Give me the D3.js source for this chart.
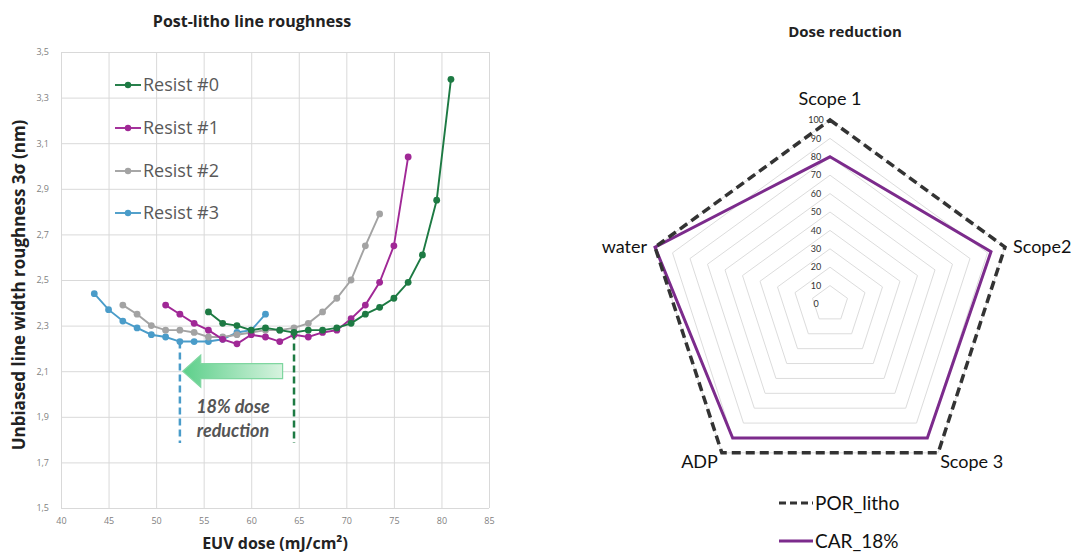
<!DOCTYPE html>
<html>
<head>
<meta charset="utf-8">
<script src="https://d3js.org/d3.v7.min.js"></script>
<style>
  body { margin: 0; background: #fff; }
  svg { display: block; }
  .grid line { stroke: #d9d9d9; stroke-width: 1; }
  .grid path { display: none; }
  .tick text { fill: #7f7f7f; font-size: 9px; font-family: "Open Sans", sans-serif; }
</style>
</head>
<body>
<svg id="chart" width="1077" height="555"></svg>
<script>
  // ---- left chart data (EUV dose vs roughness) ----
  const resistNames = ["Resist #0", "Resist #1", "Resist #2", "Resist #3"];
  const resistColors = ["#1d7a43", "#a02896", "#a3a3a3", "#4a9cc9"];

  const dose0 = [55.5, 57, 58.5, 60, 61.5, 63, 64.5, 66, 67.5, 69, 70.5, 72, 73.5, 75, 76.5, 78, 79.5, 81];
  const ler0  = [2.36, 2.31, 2.30, 2.28, 2.29, 2.28, 2.27, 2.28, 2.28, 2.29, 2.31, 2.35, 2.38, 2.42, 2.49, 2.61, 2.85, 3.38];

  const dose1 = [51, 52.5, 54, 55.5, 57, 58.5, 60, 61.5, 63, 64.5, 66, 67.5, 69, 70.5, 72, 73.5, 75, 76.5];
  const ler1  = [2.39, 2.35, 2.31, 2.28, 2.24, 2.22, 2.26, 2.25, 2.23, 2.26, 2.25, 2.27, 2.28, 2.33, 2.39, 2.49, 2.65, 3.04];

  const dose2 = [46.5, 48, 49.5, 51, 52.5, 54, 55.5, 57, 58.5, 60, 61.5, 63, 64.5, 66, 67.5, 69, 70.5, 72, 73.5];
  const ler2  = [2.39, 2.35, 2.30, 2.28, 2.28, 2.27, 2.25, 2.25, 2.26, 2.27, 2.28, 2.28, 2.29, 2.31, 2.36, 2.42, 2.50, 2.65, 2.79];

  const dose3 = [43.5, 45, 46.5, 48, 49.5, 51, 52.5, 54, 55.5, 57, 58.5, 60, 61.5];
  const ler3  = [2.44, 2.37, 2.32, 2.29, 2.26, 2.25, 2.23, 2.23, 2.23, 2.24, 2.27, 2.28, 2.35];

  const xTicks = [40, 45, 50, 55, 60, 65, 70, 75, 80, 85];
  const yTicks = [1.5, 1.7, 1.9, 2.1, 2.3, 2.5, 2.7, 2.9, 3.1, 3.3, 3.5];

  // dose reduction markers
  const refDoses = [52.5, 64.5];
  const refLer = [2.23, 2.27];
  const refColors = ["#4a9cc9", "#1d7a43"];
  const arrowFrom = 63.3, arrowTo = 52.8, arrowLevel = 2.1;

  // ---- right chart data (radar) ----
  const axesNames = ["Scope 1", "Scope2", "Scope 3", "ADP", "water"];
  const porLitho = [100, 100, 100, 100, 100];
  const car18 = [80, 92, 90, 90, 100];
  const ringTicks = [0, 10, 20, 30, 40, 50, 60, 70, 80, 90, 100];

  const svg = d3.select("#chart");
  const locale = d3.formatLocale({ decimal: ",", thousands: ".", grouping: [3], currency: ["", "€"] });
  const fmt = locale.format(".1f");

  // ================= LEFT CHART =================
  const x = d3.scaleLinear().domain([40, 85]).range([61, 489]);
  const y = d3.scaleLinear().domain([1.5, 3.5]).range([508, 52]);

  svg.append("g")
    .attr("class", "grid")
    .attr("transform", "translate(0,508)")
    .call(d3.axisBottom(x).tickValues(xTicks).tickSize(-456).tickPadding(8))
    .call(g => g.selectAll(".tick text").attr("dy", "0.9em"));

  svg.append("g")
    .attr("class", "grid")
    .attr("transform", "translate(61,0)")
    .call(d3.axisLeft(y).tickValues(yTicks).tickSize(-428).tickPadding(12).tickFormat(fmt));

  const series = [
    { name: resistNames[0], color: resistColors[0], xs: dose0, ys: ler0 },
    { name: resistNames[1], color: resistColors[1], xs: dose1, ys: ler1 },
    { name: resistNames[2], color: resistColors[2], xs: dose2, ys: ler2 },
    { name: resistNames[3], color: resistColors[3], xs: dose3, ys: ler3 }
  ];

  const line = d3.line().x(d => x(d[0])).y(d => y(d[1]));

  // draw back to front: #3, #2, #1, #0
  series.slice().reverse().forEach(s => {
    const pts = s.xs.map((v, i) => [v, s.ys[i]]);
    svg.append("path")
      .datum(pts)
      .attr("d", line)
      .attr("fill", "none")
      .attr("stroke", s.color)
      .attr("stroke-width", 1.9);
    svg.append("g").selectAll("circle")
      .data(pts)
      .enter().append("circle")
      .attr("cx", d => x(d[0]))
      .attr("cy", d => y(d[1]))
      .attr("r", 3.4)
      .attr("fill", s.color);
  });

  // dashed verticals
  refDoses.forEach((d, i) => {
    svg.append("line")
      .attr("x1", x(d)).attr("x2", x(d))
      .attr("y1", y(refLer[i])).attr("y2", y(1.785))
      .attr("stroke", refColors[i])
      .attr("stroke-width", 2.5)
      .attr("stroke-dasharray", "7,4");
  });

  // arrow
  const defs = svg.append("defs");
  const grad = defs.append("linearGradient").attr("id", "arrowGrad")
    .attr("x1", "0").attr("x2", "1").attr("y1", "0").attr("y2", "0");
  grad.append("stop").attr("offset", "0%").attr("stop-color", "#5ccf8a");
  grad.append("stop").attr("offset", "100%").attr("stop-color", "#d7f3df");

  const ax0 = x(arrowTo), ax1 = x(arrowFrom), ay = y(arrowLevel);
  const arrowPts = [
    [ax0, ay], [ax0 + 18, ay - 16], [ax0 + 18, ay - 7.5], [ax1, ay - 7.5],
    [ax1, ay + 7.5], [ax0 + 18, ay + 7.5], [ax0 + 18, ay + 16]
  ];
  svg.append("polygon")
    .attr("points", arrowPts.map(p => p.join(",")).join(" "))
    .attr("fill", "url(#arrowGrad)")
    .attr("stroke", "#7fd6a0")
    .attr("stroke-width", 1.2);

  svg.append("text")
    .attr("x", 233).attr("y", 413)
    .attr("text-anchor", "middle")
    .attr("font-family", "Lato, sans-serif")
    .attr("font-weight", "bold").attr("font-style", "italic")
    .attr("font-size", 18).attr("fill", "#555")
    .text("18% dose");
  svg.append("text")
    .attr("x", 233).attr("y", 437)
    .attr("text-anchor", "middle")
    .attr("font-family", "Lato, sans-serif")
    .attr("font-weight", "bold").attr("font-style", "italic")
    .attr("font-size", 18).attr("fill", "#555")
    .text("reduction");

  // legend
  const legendY = [85, 128, 171, 213];
  series.forEach((s, i) => {
    const g = svg.append("g").attr("transform", `translate(115,${legendY[i]})`);
    g.append("line").attr("x1", 0).attr("x2", 26).attr("stroke", s.color).attr("stroke-width", 1.9);
    g.append("circle").attr("cx", 13).attr("r", 3.2).attr("fill", s.color);
    g.append("text")
      .attr("x", 28).attr("dy", "0.35em")
      .attr("font-family", "'Open Sans', sans-serif")
      .attr("font-size", 18).attr("fill", "#595959")
      .text(s.name);
  });

  // titles
  svg.append("text")
    .attr("x", 252).attr("y", 27)
    .attr("text-anchor", "middle")
    .attr("font-family", "'Open Sans', sans-serif")
    .attr("font-weight", "bold").attr("font-size", 16).attr("fill", "#222")
    .text("Post-litho line roughness");

  svg.append("text")
    .attr("x", 275).attr("y", 549)
    .attr("text-anchor", "middle")
    .attr("font-family", "'Open Sans', sans-serif")
    .attr("font-weight", "bold").attr("font-size", 16).attr("fill", "#222")
    .text("EUV dose (mJ/cm²)");

  svg.append("text")
    .attr("transform", "translate(25,285) rotate(-90)")
    .attr("text-anchor", "middle")
    .attr("font-family", "'Open Sans', sans-serif")
    .attr("font-weight", "bold").attr("font-size", 17).attr("fill", "#222")
    .text("Unbiased line width roughness 3σ (nm)");

  // ================= RIGHT CHART (radar) =================
  const cx = 830, cy = 304;
  const r = d3.scaleLinear().domain([0, 100]).range([0, 184]);
  const angle = i => i * 2 * Math.PI / axesNames.length;
  const radar = d3.lineRadial().angle((d, i) => angle(i)).radius(d => r(d)).curve(d3.curveLinearClosed);
  const rg = svg.append("g").attr("transform", `translate(${cx},${cy})`);

  // rings
  ringTicks.slice(1).forEach(t => {
    rg.append("path")
      .attr("d", radar(axesNames.map(() => t)))
      .attr("fill", "none")
      .attr("stroke", "#dcdcdc")
      .attr("stroke-width", 1);
  });

  // series
  rg.append("path")
    .attr("d", radar(car18))
    .attr("fill", "none")
    .attr("stroke", "#7c2b8c")
    .attr("stroke-width", 3)
    .attr("stroke-linejoin", "miter");
  rg.append("path")
    .attr("d", radar(porLitho))
    .attr("fill", "none")
    .attr("stroke", "#333")
    .attr("stroke-width", 3.5)
    .attr("stroke-dasharray", "9,5");

  // ring labels
  ringTicks.forEach(t => {
    rg.append("text")
      .attr("x", -14).attr("y", -r(t))
      .attr("dy", "0.35em")
      .attr("text-anchor", "middle")
      .attr("font-family", "Lato, sans-serif")
      .attr("font-size", 9).attr("fill", "#333")
      .text(t);
  });

  // axis labels
  const labelPos = [
    { dx: 0, dy: -15, anchor: "middle" },
    { dx: 8, dy: 6, anchor: "start" },
    { dx: 2, dy: 15, anchor: "start" },
    { dx: -4, dy: 15, anchor: "end" },
    { dx: -8, dy: 6, anchor: "end" }
  ];
  axesNames.forEach((name, i) => {
    const a = angle(i) - Math.PI / 2;
    const px = Math.cos(a) * r(100), py = Math.sin(a) * r(100);
    rg.append("text")
      .attr("x", px + labelPos[i].dx).attr("y", py + labelPos[i].dy)
      .attr("text-anchor", labelPos[i].anchor)
      .attr("font-family", "Lato, sans-serif")
      .attr("font-size", 18).attr("fill", "#111")
      .text(name);
  });

  svg.append("text")
    .attr("x", 845).attr("y", 37)
    .attr("text-anchor", "middle")
    .attr("font-family", "'Open Sans', sans-serif")
    .attr("font-weight", "bold").attr("font-size", 15).attr("fill", "#222")
    .text("Dose reduction");

  // radar legend
  const legendItems = [
    { name: "POR_litho", color: "#333", dash: "7,4" },
    { name: "CAR_18%", color: "#7c2b8c", dash: null }
  ];
  legendItems.forEach((it, i) => {
    const g = svg.append("g").attr("transform", `translate(779,${503 + i * 38})`);
    g.append("line").attr("x1", 0).attr("x2", 34)
      .attr("stroke", it.color).attr("stroke-width", 3)
      .attr("stroke-dasharray", it.dash);
    g.append("text")
      .attr("x", 36).attr("dy", "0.35em")
      .attr("font-family", "Lato, sans-serif")
      .attr("font-size", 19).attr("fill", "#111")
      .text(it.name);
  });
</script>
</body>
</html>
